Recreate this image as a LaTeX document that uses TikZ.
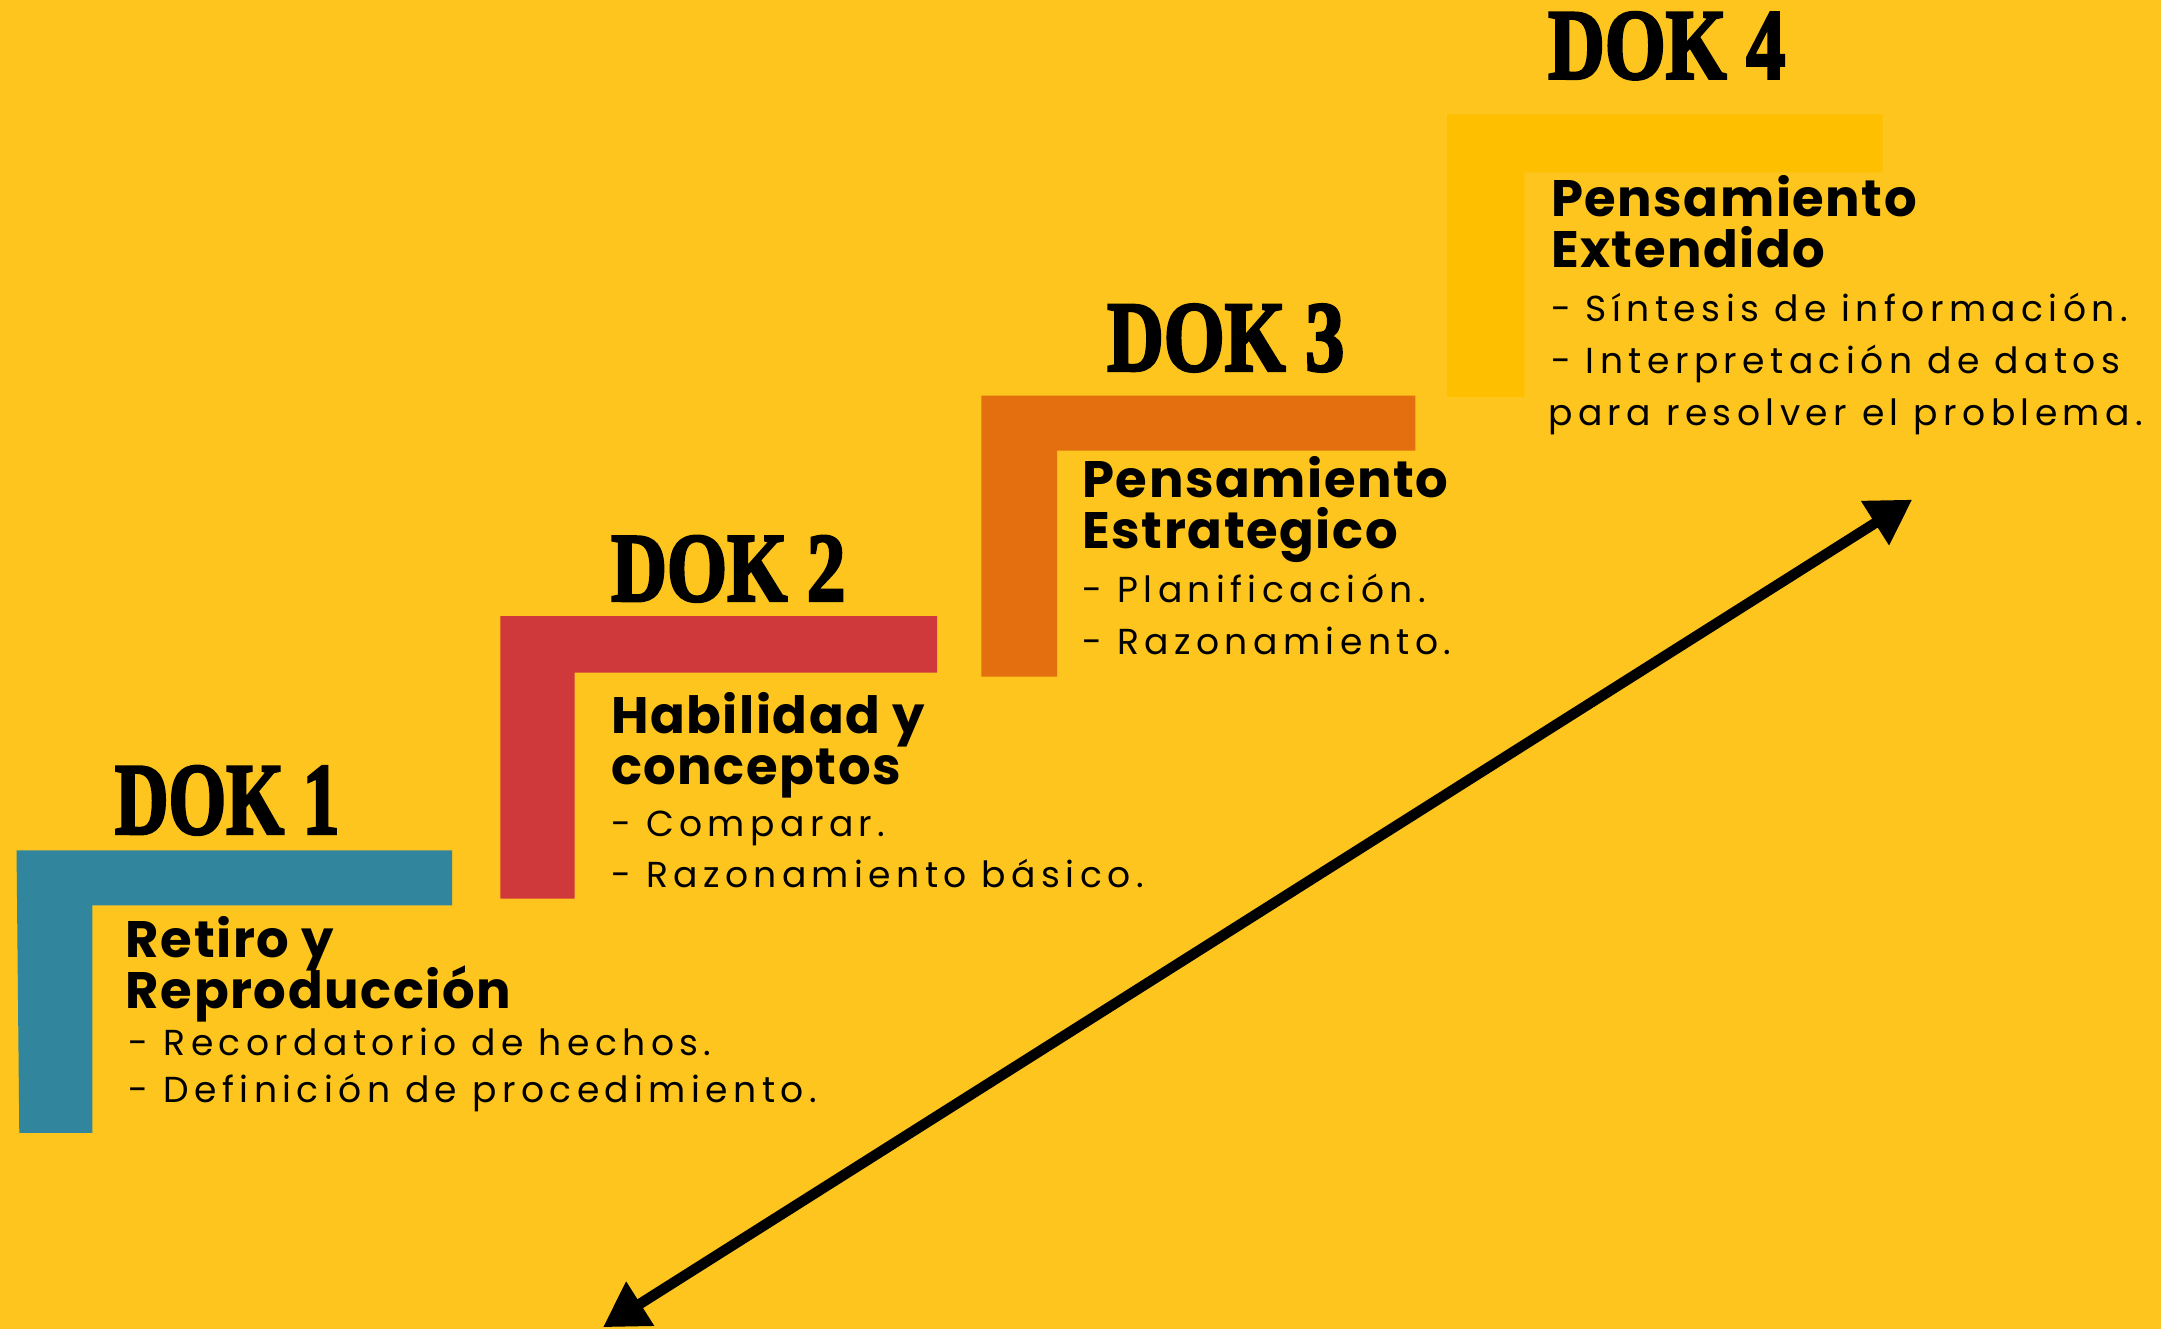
\documentclass[tikz,border=0pt]{standalone}
\usepackage{fontspec}
\usetikzlibrary{arrows.meta}
\setmainfont{Poppins}
\newfontfamily\headfont{Liberation Serif}[BoldFeatures={FakeBold=3}]
\newfontfamily\titlefont{Poppins}[LetterSpace=3]
\newfontfamily\bulfont{Poppins}[LetterSpace=15]
\definecolor{bgyel}{HTML}{FDC51D}
\definecolor{dokblue}{HTML}{31859C}
\definecolor{dokred}{HTML}{D0393B}
\definecolor{dokorange}{HTML}{E46F0E}
\definecolor{dokgold}{HTML}{FDBF00}
\tikzset{
  head/.style={anchor=south west, inner sep=0pt, font=\headfont\bfseries},
  ttl/.style={anchor=base west, inner sep=0pt, font=\titlefont\bfseries\fontsize{18.6pt}{18.6pt}\selectfont},
  bul/.style={anchor=base west, inner sep=0pt, font=\bulfont\fontsize{13.1pt}{13.1pt}\selectfont},
  arr/.style={line width=3.8pt, {Triangle[length=16pt,width=18pt]}-{Triangle[length=16pt,width=18pt]}}
}
\begin{document}
\begin{tikzpicture}[x=0.5pt,y=-0.5pt]
\fill[bgyel] (0,0) rectangle (1568,964);
\useasboundingbox (0,0) rectangle (1568,964);
% L shapes
\fill[dokblue] (12,617) -- (328,617) -- (328,657) -- (67,657) -- (67,822) -- (14,822) -- cycle;
\fill[dokred] (363,447) -- (680,447) -- (680,488) -- (417,488) -- (417,652) -- (363,652) -- cycle;
\fill[dokorange] (712,287) -- (1027,287) -- (1027,327) -- (767,327) -- (767,491) -- (712,491) -- cycle;
\fill[dokgold] (1050,83) -- (1366,83) -- (1366,125) -- (1106,125) -- (1106,288) -- (1050,288) -- cycle;
% headings
\node[head] (h1) at (83,606) {\resizebox{81.5pt}{24.5pt}{DOK 1}};
\node[head] (h2) at (443,437) {\resizebox{85pt}{23.5pt}{DOK 2}};
\node[head] (h3) at (803,270) {\resizebox{86pt}{24pt}{DOK 3}};
\node[head] (h4) at (1123,58) {\resizebox{86pt}{24pt}{DOK 4}};
% DOK 1 text
\node[ttl] (t1a) at (91,695) {Retiro y};
\node[ttl] (t1b) at (91,732) {Reproducción};
\node[bul] (b1a) at (93,766) {- Recordatorio de hechos.};
\node[bul] (b1b) at (93,800) {- Definición de procedimiento.};
% DOK 2 text
\node[ttl] (t2a) at (443,532) {Habilidad y};
\node[ttl] (t2b) at (443,569) {conceptos};
\node[bul] (b2a) at (443,607) {- Comparar.};
\node[bul] (b2b) at (443,644) {- Razonamiento básico.};
% DOK 3 text
\node[ttl] (t3a) at (785,361) {Pensamiento};
\node[ttl] (t3b) at (785,398) {Estrategico};
\node[bul] (b3a) at (785,437) {- Planificación.};
\node[bul] (b3b) at (785,475) {- Razonamiento.};
% DOK 4 text
\node[ttl] (t4a) at (1125,157) {Pensamiento};
\node[ttl] (t4b) at (1125,194) {Extendido};
\node[bul] (b4a) at (1125,233) {- Síntesis de información.};
\node[bul] (b4b) at (1125,271) {- Interpretación de datos};
\node[bul] (b4c) at (1123,309) {para resolver el problema.};
% arrow
\coordinate (arrA) at (437.5,963);
\coordinate (arrB) at (1387.5,362.5);
\draw[arr] (arrA) -- (arrB);
\end{tikzpicture}
\end{document}
